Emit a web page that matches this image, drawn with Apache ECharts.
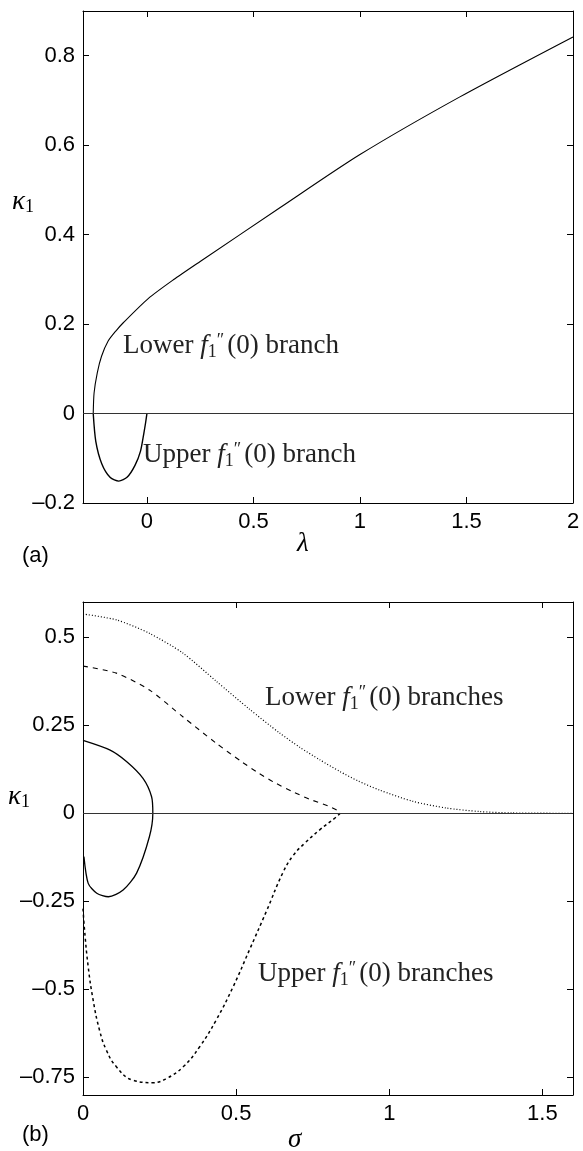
<!DOCTYPE html>
<html>
<head>
<meta charset="utf-8">
<script src="https://cdn.jsdelivr.net/npm/echarts@6/dist/echarts.min.js"></script>
<style>
  html, body { margin: 0; padding: 0; background: #fff; }
  #chart { width: 583px; height: 1151px; }
</style>
</head>
<body>
<div id="chart"></div>
<script>
// === Données ===

// (a) kappa1 en fonction de lambda
const lambdaTicks = [0, 0.5, 1, 1.5, 2];
const kappaTicksA = [-0.2, 0, 0.2, 0.4, 0.6, 0.8];
// branche "upper" : de (0,0) jusqu'au point de retournement
const upperBranchA = [
  [0, 0], [-0.006, -0.02], [-0.014, -0.043], [-0.030, -0.084], [-0.056, -0.116],
  [-0.092, -0.142], [-0.132, -0.151], [-0.172, -0.143], [-0.212, -0.112],
  [-0.240, -0.062], [-0.252, 0]
];
// branche "lower" : du point de retournement vers lambda = 2
const lowerBranchA = [
  [-0.252, 0], [-0.248, 0.046], [-0.233, 0.091], [-0.213, 0.128], [-0.182, 0.162],
  [-0.145, 0.185], [-0.111, 0.203], [0.006, 0.257], [0.124, 0.299], [0.25, 0.34],
  [0.624, 0.46], [1.0, 0.579], [1.469, 0.708], [2.0, 0.842]
];

// (b) kappa1 en fonction de sigma
const sigmaTicks = [0, 0.5, 1, 1.5];
const kappaTicksB = [-0.75, -0.5, -0.25, 0, 0.25, 0.5];
const solidLoopB = [
  [0, 0.207], [0.087, 0.18], [0.142, 0.147], [0.196, 0.099], [0.224, 0.047],
  [0.228, 0], [0.217, -0.066], [0.175, -0.170], [0.131, -0.218], [0.083, -0.237],
  [0.045, -0.227], [0.017, -0.199], [0.003, -0.123]
];
const dottedLowerB = [
  [0, 0.566], [0.110, 0.549], [0.217, 0.511], [0.326, 0.455], [0.435, 0.375],
  [0.543, 0.296], [0.642, 0.228], [0.707, 0.188], [0.773, 0.152], [0.838, 0.119],
  [0.898, 0.092], [0.968, 0.066], [1.077, 0.034], [1.186, 0.015], [1.294, 0.005],
  [1.40, 0.001], [1.6, 0]
];
const dashedLowerB = [
  [0, 0.418], [0.109, 0.398], [0.217, 0.350], [0.326, 0.274], [0.435, 0.199],
  [0.517, 0.147], [0.572, 0.115], [0.626, 0.087], [0.686, 0.061], [0.740, 0.040],
  [0.800, 0.021], [0.829, 0.009], [0.840, 0]
];
const dashedUpperB = [
  [0.840, 0], [0.822, -0.014], [0.773, -0.047], [0.724, -0.085], [0.686, -0.120],
  [0.653, -0.168], [0.599, -0.278], [0.545, -0.385], [0.490, -0.493], [0.435, -0.587],
  [0.381, -0.663], [0.327, -0.720], [0.273, -0.753], [0.229, -0.765], [0.163, -0.758],
  [0.109, -0.720], [0.076, -0.672], [0.054, -0.616], [0.033, -0.530], [0.017, -0.436],
  [0.005, -0.331], [0, -0.27]
];

// === Styles communs ===
const sansFont = "'Liberation Sans', Arial, sans-serif";
const serifFont = "'Liberation Serif', 'DejaVu Serif', serif";

function tickLabel(v) {
  return v < 0 ? "\u2013" + String(-v) : String(v);
}

function axe(grid, min, max, ticks, position, withLabels) {
  return {
    gridIndex: grid,
    type: "value",
    min: min,
    max: max,
    position: position,
    axisLine: { show: true, onZero: false, lineStyle: { color: "#000", width: 1 } },
    axisTick: { show: true, inside: true, length: 6, customValues: ticks, lineStyle: { color: "#000" } },
    axisLabel: {
      show: withLabels,
      customValues: ticks,
      formatter: tickLabel,
      margin: 8,
      color: "#000",
      fontFamily: sansFont,
      fontSize: 22
    },
    splitLine: { show: false }
  };
}

function courbe(data, xi, yi, type, width, lissage) {
  return {
    type: "line",
    data: data,
    xAxisIndex: xi,
    yAxisIndex: yi,
    showSymbol: false,
    smooth: lissage || 0.25,
    clip: true,
    lineStyle: { color: "#000", width: width, type: type }
  };
}

function ligneZero() {
  return {
    silent: true,
    symbol: "none",
    label: { show: false },
    lineStyle: { color: "#333", type: "solid", width: 1 },
    data: [{ yAxis: 0 }]
  };
}

// Texte "f''_1(0)" en texte riche
const richText = {
  t: { fontFamily: serifFont, fontSize: 27, fill: "#222" },
  f: { fontFamily: serifFont, fontSize: 27, fontStyle: "italic", fill: "#222" },
  sub: { fontFamily: serifFont, fontSize: 18, fill: "#222", padding: [12, 0, 0, 0] },
  sup: { fontFamily: serifFont, fontSize: 18, fill: "#222", padding: [0, 3, 10, 0] }
};

function annotation(left, top, debut, fin) {
  return {
    type: "text",
    left: left,
    top: top,
    style: {
      text: "{t|" + debut + "}{f|f}{sub|1}{sup|\u2033}{t|" + fin + "}",
      rich: richText
    }
  };
}

function symbole(left, top, lettre, indice) {
  const rich = {
    k: { fontFamily: serifFont, fontSize: 27, fontStyle: "italic", fill: "#000" },
    s: { fontFamily: serifFont, fontSize: 18, fill: "#000", padding: [12, 0, 0, 0] }
  };
  return {
    type: "text",
    left: left,
    top: top,
    style: { text: "{k|" + lettre + "}" + (indice ? "{s|" + indice + "}" : ""), rich: rich }
  };
}

function etiquette(left, top, txt) {
  return {
    type: "text",
    left: left,
    top: top,
    style: { text: txt, fontFamily: sansFont, fontSize: 22, fill: "#000" }
  };
}

// === Graphique ===
const chart = echarts.init(document.getElementById("chart"));

const option = {
  animation: false,
  backgroundColor: "#fff",
  grid: [
    { left: 83, right: 10, top: 11, height: 492 },
    { left: 83, right: 10, top: 602, height: 493 }
  ],
  xAxis: [
    axe(0, -0.3, 2, lambdaTicks, "bottom", true),
    axe(0, -0.3, 2, lambdaTicks, "top", false),
    axe(1, 0, 1.6, sigmaTicks, "bottom", true),
    axe(1, 0, 1.6, sigmaTicks, "top", false)
  ],
  yAxis: [
    axe(0, -0.2, 0.9, kappaTicksA, "left", true),
    axe(0, -0.2, 0.9, kappaTicksA, "right", false),
    axe(1, -0.8, 0.6, kappaTicksB, "left", true),
    axe(1, -0.8, 0.6, kappaTicksB, "right", false)
  ],
  series: [
    Object.assign(courbe(upperBranchA, 0, 0, "solid", 1.4), { markLine: ligneZero() }),
    courbe(lowerBranchA, 0, 0, "solid", 1.1),
    Object.assign(courbe(solidLoopB, 2, 2, "solid", 1.3), { markLine: ligneZero() }),
    courbe(dottedLowerB, 2, 2, [1, 2], 1.2),
    courbe(dashedLowerB, 2, 2, [5, 5], 1.1),
    courbe(dashedUpperB, 2, 2, [3, 3], 1.5, 0.45)
  ],
  graphic: [
    symbole(12, 188, "\u03BA", "1"),
    symbole(297, 530, "\u03BB", ""),
    etiquette(22, 545, "(a)"),
    annotation(123, 332, "Lower ", "(0) branch"),
    annotation(143, 441, "Upper ", "(0) branch"),
    symbole(8, 783, "\u03BA", "1"),
    symbole(288, 1126, "\u03C3", ""),
    etiquette(22, 1124, "(b)"),
    annotation(265, 684, "Lower ", "(0) branches"),
    annotation(258, 960, "Upper ", "(0) branches")
  ]
};

chart.setOption(option);
window.addEventListener("resize", () => chart.resize());
</script>
</body>
</html>
